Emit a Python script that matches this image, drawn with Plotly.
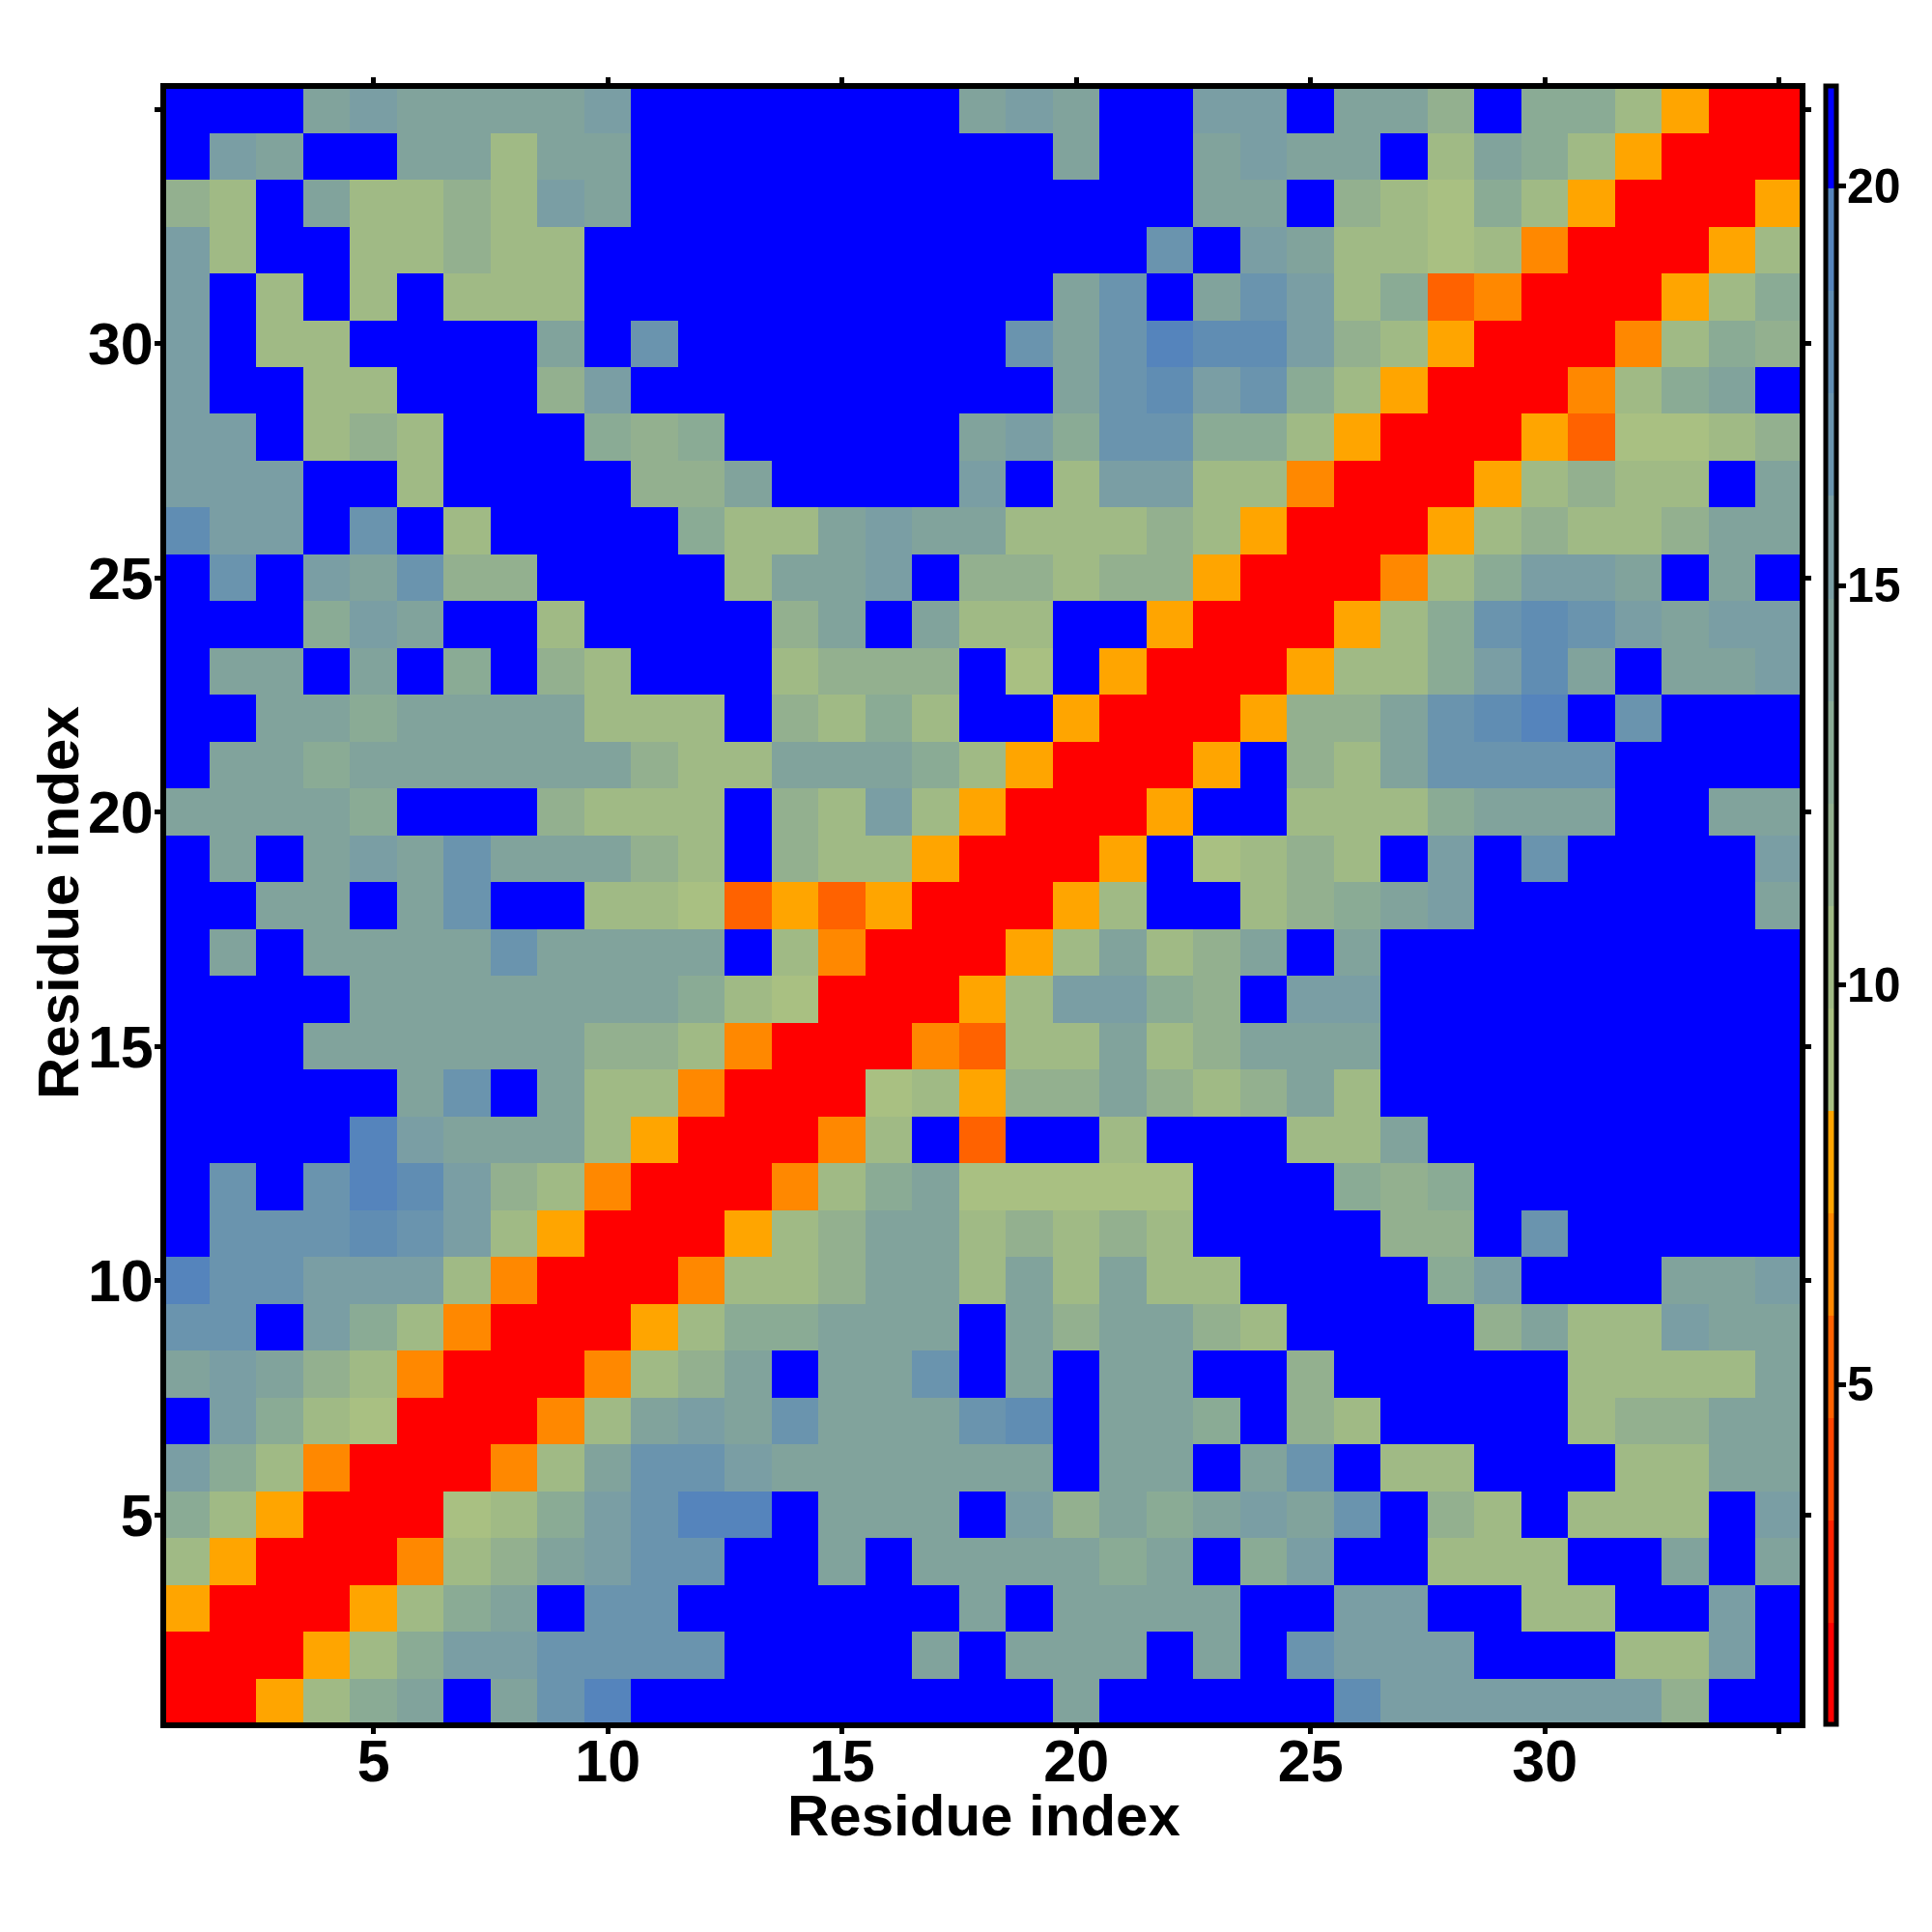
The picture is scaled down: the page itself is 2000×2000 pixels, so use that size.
import plotly.graph_objects as go

residues = list(range(1, 36))
tick_vals = [5, 10, 15, 20, 25, 30, 35]
tick_text = ["5", "10", "15", "20", "25", "30", ""]
bar_ticks = [5, 10, 15, 20]
axis_label = "Residue index"

# rows run from residue 1 (bottom) to residue 35 (top)
z_rows = [
    [1,1,8,10,13,14,21,14,17,19,21,21,21,21,21,21,21,21,21,14,21,21,21,21,21,18,15,15,15,15,15,15,12,21,21],
    [1,1,1,8,10,13,15,15,17,17,17,17,21,21,21,21,14,21,14,14,14,21,14,21,17,15,15,15,21,21,21,10,10,15,21],
    [8,1,1,1,8,10,13,14,21,17,17,21,21,21,21,21,21,14,21,14,14,14,14,21,21,15,15,21,21,10,10,21,21,15,21],
    [10,8,1,1,1,6,10,12,14,15,17,17,21,21,14,21,14,14,14,14,13,14,21,13,15,21,21,10,10,10,21,21,14,21,14],
    [13,10,8,1,1,1,9,10,13,15,17,19,19,21,14,14,14,21,15,12,14,13,14,15,14,17,21,12,10,21,10,10,10,21,15],
    [15,13,10,6,1,1,1,6,10,14,17,17,15,14,14,14,14,14,14,21,14,14,21,14,17,21,10,10,21,21,21,10,10,14,14],
    [21,15,13,10,9,1,1,1,6,10,14,15,14,17,14,14,14,17,18,21,14,14,13,21,12,10,21,21,21,21,10,12,12,14,14],
    [14,15,14,12,10,6,1,1,1,6,10,12,14,21,14,14,17,21,14,21,14,14,21,21,12,21,21,21,21,21,10,10,10,10,14],
    [17,17,21,15,13,10,6,1,1,1,8,10,13,13,14,14,14,21,14,12,14,14,12,10,21,21,21,21,12,14,10,10,15,14,14],
    [19,17,17,15,15,15,10,6,1,1,1,6,10,10,12,14,14,10,14,10,14,10,10,21,21,21,21,13,15,21,21,21,14,14,15],
    [21,17,17,17,18,17,15,10,8,1,1,1,8,10,12,14,14,10,12,10,12,10,21,21,21,21,12,12,21,17,21,21,21,21,21],
    [21,17,21,17,19,18,15,12,10,6,1,1,1,6,10,13,14,9,9,9,9,9,21,21,21,13,12,13,21,21,21,21,21,21,21],
    [21,21,21,21,19,15,14,14,14,10,8,1,1,1,6,10,21,5,21,21,10,21,21,21,10,10,14,21,21,21,21,21,21,21,21],
    [21,21,21,21,21,14,17,21,14,10,10,6,1,1,1,9,10,8,12,12,14,12,10,12,14,10,21,21,21,21,21,21,21,21,21],
    [21,21,21,14,14,14,14,14,14,12,12,10,6,1,1,1,6,5,10,10,14,10,12,14,14,14,21,21,21,21,21,21,21,21,21],
    [21,21,21,21,14,14,14,14,14,14,14,13,10,9,1,1,1,8,10,15,15,13,12,21,15,15,21,21,21,21,21,21,21,21,21],
    [21,14,21,14,14,14,14,17,14,14,14,14,21,10,6,1,1,1,8,10,14,10,12,14,21,14,21,21,21,21,21,21,21,21,21],
    [21,21,14,14,21,14,17,21,21,10,10,9,5,8,5,8,1,1,1,8,10,21,21,10,12,13,14,15,21,21,21,21,21,21,14],
    [21,14,21,14,15,14,17,14,14,14,12,10,21,12,10,10,8,1,1,1,8,21,9,10,12,10,21,15,21,17,21,21,21,21,15],
    [14,14,14,14,13,21,21,21,12,10,10,10,21,12,10,15,10,8,1,1,1,8,21,21,10,10,10,13,14,14,14,21,21,14,14],
    [21,14,14,13,14,14,14,14,14,14,12,10,10,14,14,14,13,10,8,1,1,1,8,21,12,10,14,17,17,17,17,21,21,21,21],
    [21,21,14,14,13,14,14,14,14,10,10,10,21,12,10,13,10,21,21,8,1,1,1,8,12,12,14,17,18,19,21,17,21,21,21],
    [21,14,14,21,14,21,13,21,12,10,21,21,21,10,12,12,12,21,9,21,8,1,1,1,8,10,10,13,15,18,14,21,14,14,15],
    [21,21,21,13,15,14,21,21,10,21,21,21,21,12,14,21,14,10,10,21,21,8,1,1,1,8,10,13,17,18,17,15,14,15,15],
    [21,17,21,15,14,17,12,12,21,21,21,21,10,14,14,15,21,12,12,10,12,12,8,1,1,1,6,10,13,15,15,14,21,14,21],
    [18,15,15,21,17,21,10,21,21,21,21,13,10,10,14,15,14,14,10,10,10,12,10,8,1,1,1,8,10,12,10,10,12,14,14],
    [15,15,15,21,21,10,21,21,21,21,12,12,14,21,21,21,21,15,21,10,15,15,10,10,6,1,1,1,8,10,12,10,10,21,14],
    [15,15,21,10,12,10,21,21,21,13,12,13,21,21,21,21,21,14,15,13,17,17,13,13,10,8,1,1,1,8,5,9,9,10,12],
    [15,21,21,10,10,21,21,21,12,15,21,21,21,21,21,21,21,21,21,14,17,18,15,17,13,10,8,1,1,1,6,10,13,14,21],
    [15,21,10,10,21,21,21,21,14,21,17,21,21,21,21,21,21,21,17,14,17,19,18,18,15,12,10,8,1,1,1,6,10,13,12],
    [15,21,10,21,10,21,10,10,10,21,21,21,21,21,21,21,21,21,21,14,17,21,14,17,15,10,13,5,6,1,1,1,8,10,13],
    [15,10,21,21,10,10,12,10,10,21,21,21,21,21,21,21,21,21,21,21,21,17,21,15,14,10,10,9,10,6,1,1,1,8,10],
    [12,10,21,14,10,10,12,10,15,14,21,21,21,21,21,21,21,21,21,21,21,21,14,14,21,12,10,9,13,10,8,1,1,1,8],
    [21,15,14,21,21,14,14,10,14,14,21,21,21,21,21,21,21,21,21,14,21,21,14,15,14,14,21,10,14,13,10,8,1,1,1],
    [21,21,21,14,15,14,14,14,14,15,21,21,21,21,21,21,21,14,15,14,21,21,15,15,21,14,14,12,21,13,13,10,8,1,1],
]

level_colors = [
    "#ff0000", "#ff2200", "#ff4500", "#ff6200", "#ff8800", "#ffa500",
    "#a9c082", "#a0ba85", "#93b08f", "#8aab95", "#81a39c", "#7a9ea4",
    "#6a94ae", "#608db3", "#5584bc", "#0000ff",
]
z_low, z_high = 0.744, 21.25
first_edge, step = 0.74, 1.2825


def frac(v):
    return min(1.0, max(0.0, (v - z_low) / (z_high - z_low)))


colorscale = []
for k, c in enumerate(level_colors):
    colorscale.append([frac(first_edge + k * step), c])
    colorscale.append([1.0 if k == len(level_colors) - 1 else frac(first_edge + (k + 1) * step), c])

FONT = "Liberation Sans"
PAGE = 8  # the page body offsets the figure by this many pixels
BAR_TOP, BAR_LEN = 89.5, 1696


def paper_x(px):
    return (px - PAGE) / 2000


def paper_y(py):
    return 1 - (py - PAGE) / 2000


fig = go.Figure(go.Heatmap(
    x=residues, y=residues, z=z_rows, zmin=z_low, zmax=z_high,
    colorscale=colorscale, hoverongaps=False,
    colorbar=dict(
        thicknessmode="pixels", thickness=11, lenmode="pixels", len=BAR_LEN,
        x=paper_x(1889.5), xanchor="left", xpad=0, y=paper_y(BAR_TOP + BAR_LEN / 2), yanchor="middle", ypad=0,
        outlinewidth=5, outlinecolor="black", borderwidth=0,
        tickmode="array", tickvals=bar_ticks, ticks="outside", ticklen=8, tickwidth=5, tickcolor="black",
        showticklabels=False,
    ),
))
axis_common = dict(
    tickmode="array", tickvals=tick_vals, ticktext=tick_text,
    ticks="outside", ticklen=6, tickwidth=5, tickcolor="black",
    showline=True, linewidth=6, linecolor="black", mirror="ticks",
    showgrid=False, zeroline=False,
    tickfont=dict(family=FONT, size=61, color="black", weight=700),
)
title_font = dict(family=FONT, size=60, color="black", weight=700)
annotations = [
    dict(text=axis_label, xref="paper", yref="paper", x=paper_x(1018), y=paper_y(1879),
         xanchor="center", yanchor="middle", showarrow=False, font=title_font),
    dict(text=axis_label, xref="paper", yref="paper", x=paper_x(60), y=paper_y(935),
         xanchor="center", yanchor="middle", showarrow=False, font=title_font, textangle=-90),
]
for v in bar_ticks:
    frac_v = (z_high - v) / (z_high - z_low)
    annotations.append(dict(
        text=str(v), xref="paper", yref="paper", x=paper_x(1909.5), y=paper_y(BAR_TOP + BAR_LEN * frac_v),
        xanchor="left", yanchor="middle", showarrow=False,
        font=dict(family=FONT, size=50, color="black", weight=700),
    ))
fig.update_layout(
    width=2000, height=2000, margin=dict(l=0, r=0, t=0, b=0),
    paper_bgcolor="white", plot_bgcolor="white", annotations=annotations,
    xaxis=dict(axis_common, domain=[paper_x(172), paper_x(1863)], range=[0.572, 35.44], ticklabelstandoff=-24),
    yaxis=dict(axis_common, domain=[paper_y(1783), paper_y(92)], range=[0.572, 35.44], ticklabelstandoff=-11),
)
fig.write_html("out.html")
